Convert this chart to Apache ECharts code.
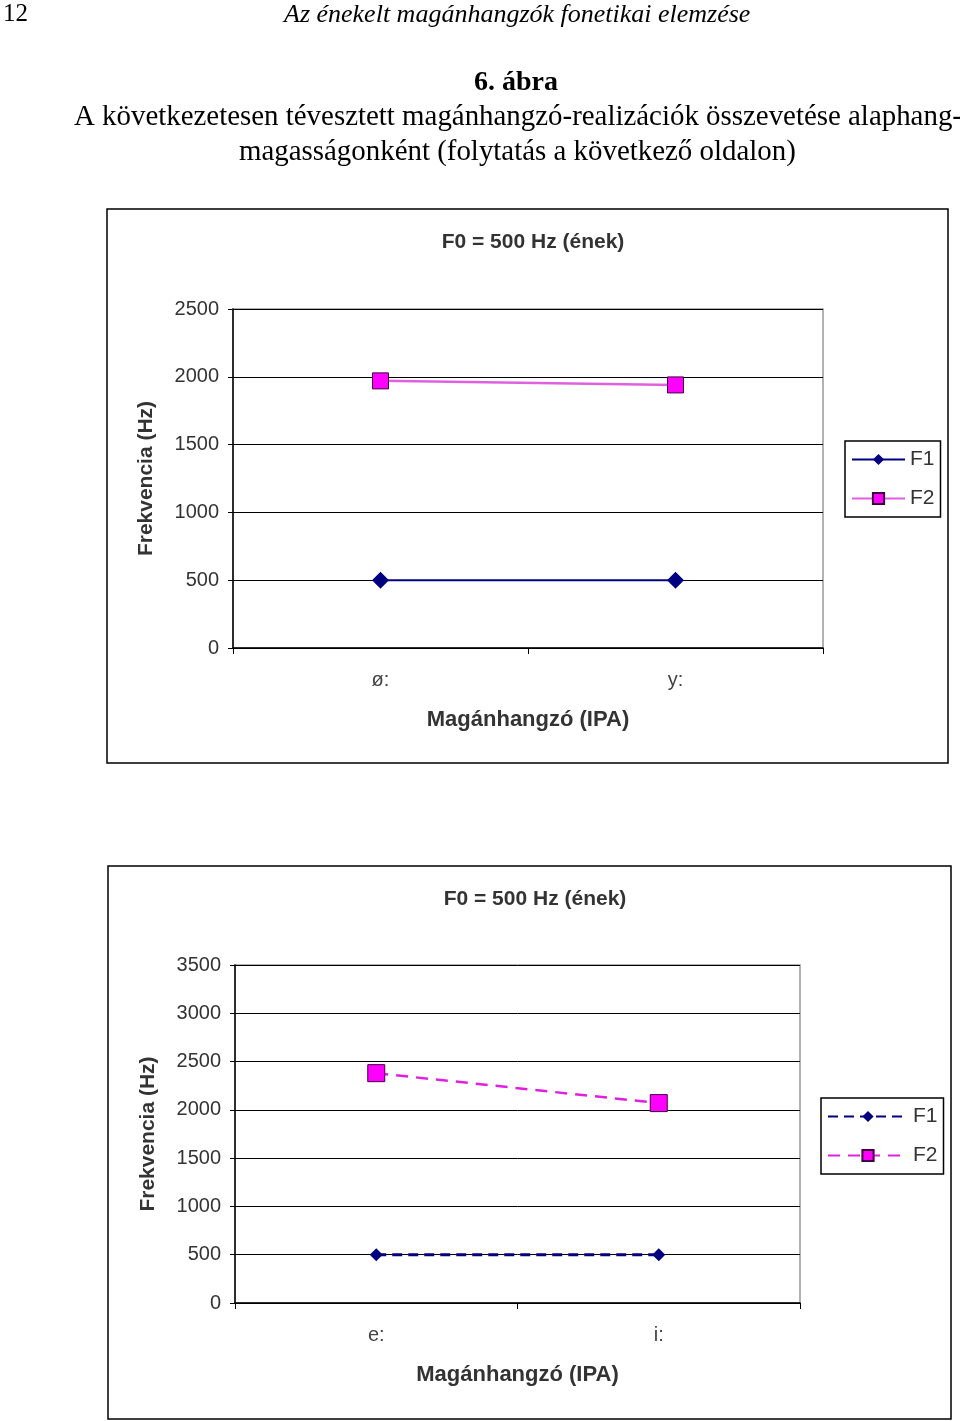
<!DOCTYPE html>
<html><head><meta charset="utf-8">
<script src="https://cdn.jsdelivr.net/npm/echarts@6/dist/echarts.min.js"></script>
<style>html,body{margin:0;padding:0;background:#fff}#c{width:960px;height:1421px}</style>
</head><body><div id="c"></div>
<script>
const categories1 = ['ø:', 'y:'];
const f1Values1 = [500, 500];
const f2Values1 = [1970, 1940];
const categories2 = ['e:', 'i:'];
const f1Values2 = [500, 500];
const f2Values2 = [2380, 2070];
const yTicks1 = {min: 0, max: 2500, interval: 500};
const yTicks2 = {min: 0, max: 3500, interval: 500};
const chartTitle = 'F0 = 500 Hz (ének)';
const xName = 'Magánhangzó (IPA)';
const yName = 'Frekvencia (Hz)';

const chart = echarts.init(document.getElementById('c'));
const sans = 'Liberation Sans, Arial, sans-serif';
const serif = 'Liberation Serif, Times New Roman, serif';

function yAxis(idx, t) {
  return {
    gridIndex: idx, type: 'value', min: t.min, max: t.max, interval: t.interval,
    name: yName, nameLocation: 'middle', nameGap: 76,
    nameTextStyle: {fontFamily: sans, fontWeight: 'bold', fontSize: 21, color: '#333'},
    axisLine: {show: true, lineStyle: {color: '#000', width: 1.5}},
    axisTick: {show: true, length: 5, lineStyle: {color: '#000'}},
    axisLabel: {fontFamily: sans, fontSize: 20, color: '#333', margin: 14, formatter: v => String(v)},
    splitLine: {show: true, lineStyle: {color: '#000', width: 1}}
  };
}
function xAxis(idx, cats) {
  return {
    gridIndex: idx, type: 'category', data: cats, boundaryGap: true,
    name: xName, nameLocation: 'middle', nameGap: 61,
    nameTextStyle: {fontFamily: sans, fontWeight: 'bold', fontSize: 22, color: '#333'},
    axisLine: {show: true, lineStyle: {color: '#000', width: 1.5}},
    axisTick: {show: true, length: 6, alignWithLabel: false, lineStyle: {color: '#000'}},
    axisLabel: {fontFamily: sans, fontSize: 20, color: '#444', margin: 22}
  };
}

chart.setOption({
  animation: false,
  backgroundColor: '#fff',
  graphic: [
    {type: 'text', left: 3, top: 2, style: {text: '12', font: '25px ' + serif, fill: '#000'}},
    {type: 'text', left: 284, top: 2, style: {text: 'Az énekelt magánhangzók fonetikai elemzése', font: 'italic 26px ' + serif, fill: '#000'}},
    {type: 'text', left: 474, top: 69, style: {text: '6. ábra', font: 'bold 28px ' + serif, fill: '#000'}},
    {type: 'text', left: 74, top: 103, style: {text: 'A következetesen tévesztett magánhangzó-realizációk összevetése alaphang-', font: '28.9px ' + serif, fill: '#000'}},
    {type: 'text', left: 239, top: 138, style: {text: 'magasságonként (folytatás a következő oldalon)', font: '28.9px ' + serif, fill: '#000'}},
    {type: 'rect', shape: {x: 107, y: 209, width: 841, height: 554}, style: {fill: 'none', stroke: '#000', lineWidth: 1.5}, z: -1},
    {type: 'rect', shape: {x: 108, y: 866, width: 843, height: 553}, style: {fill: 'none', stroke: '#000', lineWidth: 1.5}, z: -1}
  ],
  title: [
    {text: chartTitle, left: 528, top: 227, textAlign: 'center', textStyle: {fontFamily: sans, fontWeight: 'bold', fontSize: 21, color: '#333'}},
    {text: chartTitle, left: 530, top: 884, textAlign: 'center', textStyle: {fontFamily: sans, fontWeight: 'bold', fontSize: 21, color: '#333'}}
  ],
  legend: [
    {
      data: ['F1', 'F2'], orient: 'vertical', left: 845, top: 441,
      borderColor: '#000', borderWidth: 1.5, padding: [8, 6, 8, 6], itemGap: 18,
      itemWidth: 53, itemHeight: 14,
      textStyle: {fontFamily: sans, fontSize: 21, color: '#333'}
    },
    {
      data: ['F1x', 'F2x'], orient: 'vertical', left: 821, top: 1098,
      borderColor: '#000', borderWidth: 1.5, padding: [8, 6, 8, 6], itemGap: 18,
      itemWidth: 80, itemHeight: 14,
      formatter: n => n.replace('x', ''),
      textStyle: {fontFamily: sans, fontSize: 21, color: '#333'}
    }
  ],
  grid: [
    {left: 233, top: 309, width: 590, height: 339, show: true, borderColor: '#999', borderWidth: 1.5, backgroundColor: '#fff'},
    {left: 235, top: 965, width: 565, height: 338, show: true, borderColor: '#999', borderWidth: 1.5, backgroundColor: '#fff'}
  ],
  xAxis: [xAxis(0, categories1), xAxis(1, categories2)],
  yAxis: [yAxis(0, yTicks1), yAxis(1, yTicks2)],
  series: [
    {name: 'F1', type: 'line', xAxisIndex: 0, yAxisIndex: 0, data: f1Values1,
     symbol: 'diamond', symbolSize: 17, itemStyle: {color: '#000080'},
     lineStyle: {color: '#000080', width: 2}},
    {name: 'F2', type: 'line', xAxisIndex: 0, yAxisIndex: 0, data: f2Values1,
     symbol: 'rect', symbolSize: 16, itemStyle: {color: '#ff00ff', borderColor: '#400040', borderWidth: 1},
     lineStyle: {color: '#e060e0', width: 2.5}},
    {name: 'F1x', type: 'line', xAxisIndex: 1, yAxisIndex: 1, data: f1Values2,
     symbol: 'diamond', symbolSize: 13, itemStyle: {color: '#000080'},
     lineStyle: {color: '#000080', width: 3, type: [10, 6]}},
    {name: 'F2x', type: 'line', xAxisIndex: 1, yAxisIndex: 1, data: f2Values2,
     symbol: 'rect', symbolSize: 17, itemStyle: {color: '#ff00ff', borderColor: '#400040', borderWidth: 1},
     lineStyle: {color: '#e020e0', width: 2.5, type: [12, 8]}}
  ]
});
</script></body></html>
